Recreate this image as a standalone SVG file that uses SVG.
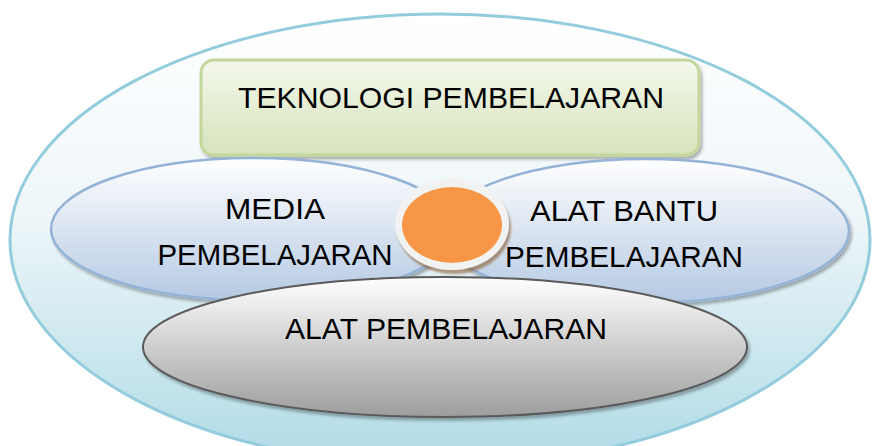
<svg xmlns="http://www.w3.org/2000/svg" width="874" height="446" viewBox="0 0 874 446">
<defs>
<linearGradient id="gBig" x1="0" y1="0" x2="0" y2="1"><stop offset="0" stop-color="#ffffff"/><stop offset="0.45" stop-color="#eef6f9"/><stop offset="1" stop-color="#afdbe6"/></linearGradient>
<linearGradient id="gGreen" x1="0" y1="0" x2="0" y2="1"><stop offset="0" stop-color="#f4f8ec"/><stop offset="1" stop-color="#d6e3bb"/></linearGradient>
<linearGradient id="gBlue" x1="0" y1="0" x2="0" y2="1"><stop offset="0" stop-color="#ffffff"/><stop offset="1" stop-color="#b5c9e3"/></linearGradient>
<linearGradient id="gGray" x1="0" y1="0" x2="0" y2="1"><stop offset="0" stop-color="#ffffff"/><stop offset="1" stop-color="#9d9d9d"/></linearGradient>
<filter id="sh" x="-10%" y="-10%" width="120%" height="130%"><feDropShadow dx="2" dy="3" stdDeviation="1.5" flood-color="#000" flood-opacity="0.3"/></filter>
<filter id="shO" x="-20%" y="-20%" width="140%" height="140%"><feDropShadow dx="2" dy="4" stdDeviation="1" flood-color="#8a5a2a" flood-opacity="0.6"/></filter>
</defs>
<style>
text{font-family:"Liberation Sans","DejaVu Sans",sans-serif;font-size:29px;fill:#000;text-anchor:middle}
</style>
<g id="outer"><ellipse cx="440" cy="240" rx="430" ry="226" fill="url(#gBig)" stroke="#93cddd" stroke-width="3"/></g>
<g id="teknologi">
<rect x="201" y="60" width="498" height="95" rx="13" fill="url(#gGreen)" stroke="#c3d69b" stroke-width="3" filter="url(#sh)"/>
<text x="451" y="108" textLength="426" lengthAdjust="spacingAndGlyphs">TEKNOLOGI PEMBELAJARAN</text>
</g>
<g id="media">
<ellipse cx="253" cy="229" rx="202" ry="71" fill="url(#gBlue)" stroke="#95b3d7" stroke-width="2.5" filter="url(#sh)"/>
<text x="275" y="219" textLength="100" lengthAdjust="spacingAndGlyphs">MEDIA</text>
<text x="275" y="265" textLength="235" lengthAdjust="spacingAndGlyphs">PEMBELAJARAN</text>
</g>
<g id="alatbantu">
<ellipse cx="645" cy="231" rx="204" ry="72" fill="url(#gBlue)" stroke="#95b3d7" stroke-width="2.5" filter="url(#sh)"/>
<text x="624" y="221" textLength="188" lengthAdjust="spacingAndGlyphs">ALAT BANTU</text>
<text x="624" y="267" textLength="238" lengthAdjust="spacingAndGlyphs">PEMBELAJARAN</text>
</g>
<g id="center">
<ellipse cx="452" cy="224" rx="57" ry="46" fill="#f2f2f2" filter="url(#shO)"/>
<ellipse cx="452" cy="225" rx="50" ry="38" fill="#f79646"/>
</g>
<g id="alat">
<ellipse cx="445" cy="347" rx="302" ry="70" fill="url(#gGray)" stroke="#5a5a5a" stroke-width="2" filter="url(#sh)"/>
<text x="446" y="339" textLength="322" lengthAdjust="spacingAndGlyphs">ALAT PEMBELAJARAN</text>
</g>
<g id="connectors"/>
</svg>
